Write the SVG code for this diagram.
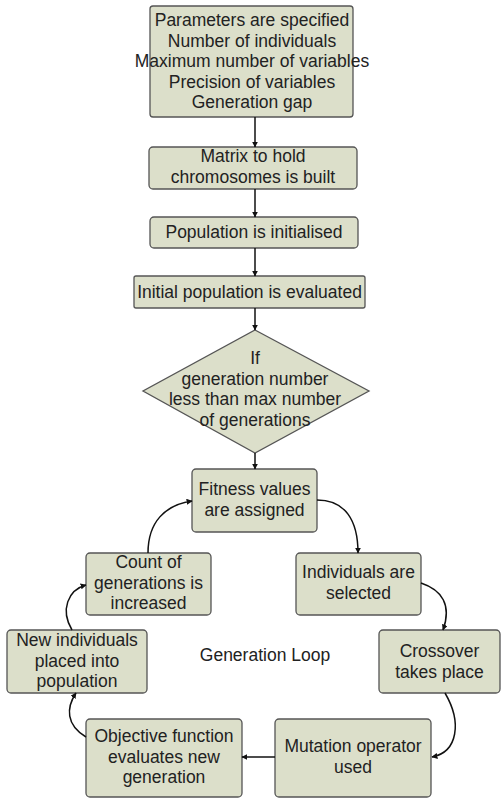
<svg xmlns="http://www.w3.org/2000/svg" width="501" height="798" viewBox="0 0 501 798">
<defs>
<marker id="ah" viewBox="0 0 10 10" refX="9" refY="5" markerWidth="6" markerHeight="6" markerUnits="userSpaceOnUse" orient="auto">
<path d="M0,0 L10,5 L0,10 z" fill="#111"/>
</marker>
</defs>
<style>
.box{fill:#dcdfca;stroke:#555;stroke-width:1.3}
.t{font-family:"Liberation Sans",Arial,sans-serif;font-size:17.5px;fill:#222;text-anchor:middle}
.c{fill:none;stroke:#111;stroke-width:1.5;marker-end:url(#ah)}
</style>
<rect width="501" height="798" fill="#fff"/>
<g id="params">
<rect class="box" x="150" y="6" width="203" height="111" rx="3"/>
<text class="t" x="252" y="26">Parameters are specified</text>
<text class="t" x="252" y="47">Number of individuals</text>
<text class="t" x="252" y="67">Maximum number of variables</text>
<text class="t" x="252" y="88">Precision of variables</text>
<text class="t" x="252" y="108">Generation gap</text>
</g>
<g id="matrix">
<rect class="box" x="149" y="147" width="208" height="42" rx="4"/>
<text class="t" x="253" y="162">Matrix to hold</text>
<text class="t" x="253" y="183">chromosomes is built</text>
</g>
<g id="popinit">
<rect class="box" x="150" y="217" width="208" height="31" rx="4"/>
<text class="t" x="254" y="238">Population is initialised</text>
</g>
<g id="initeval">
<rect class="box" x="134" y="276" width="231" height="32" rx="2"/>
<text class="t" x="249.5" y="298">Initial population is evaluated</text>
</g>
<g id="decision">
<polygon class="box" points="255,330 369,391 255,453 143,391"/>
<text class="t" x="255" y="364">If</text>
<text class="t" x="255" y="385">generation number</text>
<text class="t" x="255" y="405">less than max number</text>
<text class="t" x="255" y="426">of generations</text>
</g>
<g id="fitness">
<rect class="box" x="192" y="469" width="125" height="63" rx="4"/>
<text class="t" x="254.5" y="495">Fitness values</text>
<text class="t" x="254.5" y="516">are assigned</text>
</g>
<g id="selected">
<rect class="box" x="296" y="553" width="125" height="62" rx="4"/>
<text class="t" x="358.5" y="578">Individuals are</text>
<text class="t" x="358.5" y="599">selected</text>
</g>
<g id="crossover">
<rect class="box" x="379" y="630" width="121" height="63" rx="4"/>
<text class="t" x="439.5" y="657">Crossover</text>
<text class="t" x="439.5" y="678">takes place</text>
</g>
<g id="mutation">
<rect class="box" x="275" y="719" width="156" height="78" rx="4"/>
<text class="t" x="353" y="752">Mutation operator</text>
<text class="t" x="353" y="773">used</text>
</g>
<g id="objective">
<rect class="box" x="86" y="719" width="156" height="78" rx="4"/>
<text class="t" x="164" y="742">Objective function</text>
<text class="t" x="164" y="763">evaluates new</text>
<text class="t" x="164" y="783">generation</text>
</g>
<g id="newind">
<rect class="box" x="7" y="630" width="140" height="63" rx="4"/>
<text class="t" x="77" y="646">New individuals</text>
<text class="t" x="77" y="667">placed into</text>
<text class="t" x="77" y="687">population</text>
</g>
<g id="count">
<rect class="box" x="86" y="553" width="125" height="62" rx="4"/>
<text class="t" x="148.5" y="568">Count of</text>
<text class="t" x="148.5" y="589">generations is</text>
<text class="t" x="148.5" y="609">increased</text>
</g>
<g id="label">
<text class="t" x="265" y="661">Generation Loop</text>
</g>
<g id="connectors">
<path class="c" d="M255,117 L255,147"/>
<path class="c" d="M255,189 L255,217"/>
<path class="c" d="M255,248 L255,276"/>
<path class="c" d="M255,308 L255,330"/>
<path class="c" d="M255,453 L255,469"/>
<path class="c" d="M317,500 C345,500 358,520 358,553"/>
<path class="c" d="M421,583 C442,590 452,605 443,630"/>
<path class="c" d="M445,693 C462,722 458,752 432,757"/>
<path class="c" d="M275,757 L242,757"/>
<path class="c" d="M86,737 C66,725 66,708 76,693"/>
<path class="c" d="M72,630 C60,610 68,590 86,585"/>
<path class="c" d="M148,553 C148,522 165,505 192,501"/>
</g>
</svg>
